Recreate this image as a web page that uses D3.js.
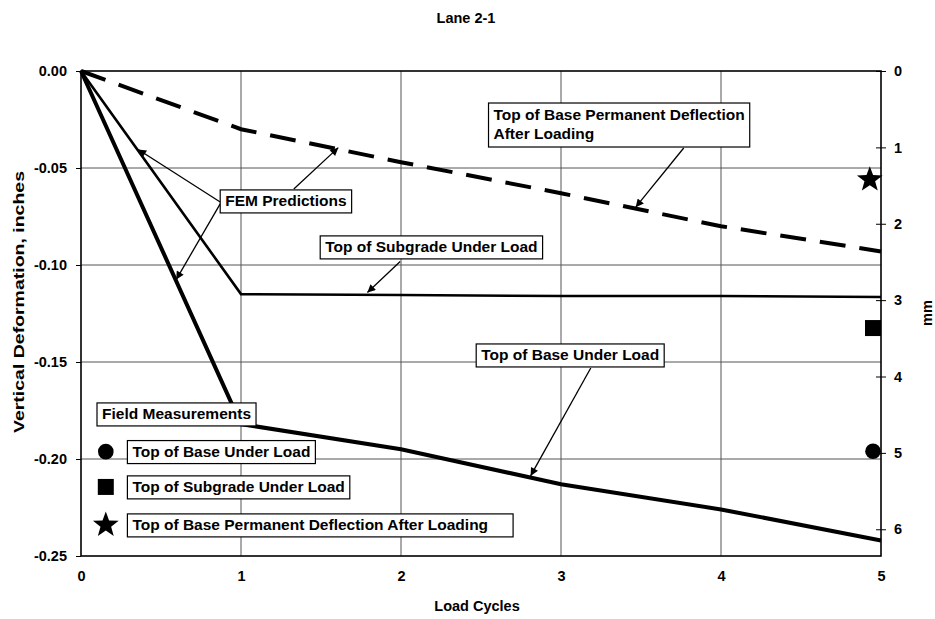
<!DOCTYPE html>
<html><head><meta charset="utf-8">
<script src="https://cdn.jsdelivr.net/npm/d3@7"></script>
<style>
body{margin:0;background:#fff;}
svg text{font-family:"Liberation Sans",Arial,sans-serif;font-weight:bold;fill:#000;}
</style></head>
<body><svg id="chart" width="935" height="619"></svg>
<script>
// ---- data ----
const cycles = [0, 1, 2, 3, 4, 5];
const femBaseUnderLoad = [0, -0.182, -0.195, -0.213, -0.226, -0.242];
const femSubgradeUnderLoad = [0, -0.115, -0.1155, -0.116, -0.116, -0.1165];
const femBasePermanent = [0, -0.030, -0.047, -0.063, -0.080, -0.093];
const fieldCycle = [4.95, 4.95, 4.93];
const fieldNames = ["Top of Base Under Load", "Top of Subgrade Under Load", "Top of Base Permanent Deflection After Loading"];
const fieldValues = [-0.196, -0.1325, -0.056];
const fieldShapes = ["circle", "square", "star"];
const yTicks = [0, -0.05, -0.10, -0.15, -0.20, -0.25];
const mmTicks = [0, 1, 2, 3, 4, 5, 6];
const xTicks = [0, 1, 2, 3, 4, 5];

// ---- layout ----
const svg = d3.select("#chart");
const L = 81, R = 881, T = 71, B = 556;
const x = d3.scaleLinear().domain([0, 5]).range([L, R]);
const y = d3.scaleLinear().domain([-0.25, 0]).range([B, T]);
const ymm = d3.scaleLinear().domain([0, 6.35]).range([T, B]);

// grid
svg.append("g").selectAll("line").data(yTicks.slice(1, -1)).join("line")
  .attr("x1", L).attr("x2", R).attr("y1", d => y(d)).attr("y2", d => y(d))
  .attr("stroke", "#555").attr("stroke-width", 1);
svg.append("g").selectAll("line").data(xTicks.slice(1, -1)).join("line")
  .attr("y1", T).attr("y2", B).attr("x1", d => x(d)).attr("x2", d => x(d))
  .attr("stroke", "#555").attr("stroke-width", 1);

// frame
svg.append("rect").attr("x", L).attr("y", T).attr("width", R - L).attr("height", B - T)
  .attr("fill", "none").attr("stroke", "#000").attr("stroke-width", 1.6);

// axes
const ax = svg.append("g").attr("transform", `translate(${L},0)`)
  .call(d3.axisLeft(y).tickValues(yTicks).tickFormat(d => d.toFixed(2)).tickSize(5).tickPadding(9));
ax.select(".domain").remove();
const ar = svg.append("g").attr("transform", `translate(${R},0)`)
  .call(d3.axisRight(ymm).tickValues(mmTicks).tickFormat(d => String(d)).tickSize(5).tickPadding(8));
ar.select(".domain").remove();
ar.selectAll(".tick line").attr("x1", -5);
const ab = svg.append("g").attr("transform", `translate(0,${B})`)
  .call(d3.axisBottom(x).tickValues(xTicks).tickFormat(d => String(d)).tickSize(0).tickPadding(15));
ab.select(".domain").remove();
svg.selectAll(".tick text").style("font-size", "14.5px").style("font-family", '"Liberation Sans",Arial,sans-serif').style("font-weight", "bold");
svg.selectAll(".tick line").attr("stroke", "#000");

// titles
svg.append("text").attr("x", 466).attr("y", 23).attr("text-anchor", "middle").style("font-size", "14.5px").text("Lane 2-1");
svg.append("text").attr("x", 477).attr("y", 611).attr("text-anchor", "middle").style("font-size", "14.5px").text("Load Cycles");
svg.append("text").attr("transform", "translate(24,302) rotate(-90)").attr("text-anchor", "middle")
  .style("font-size", "15px").attr("textLength", 262).attr("lengthAdjust", "spacingAndGlyphs").text("Vertical Deformation, inches");
svg.append("text").attr("transform", "translate(932,313) rotate(-90)").attr("text-anchor", "middle").style("font-size", "14.5px").text("mm");

// lines
const line = d3.line().x((d, i) => x(cycles[i])).y(d => y(d));
svg.append("path").datum(femBasePermanent).attr("d", line).attr("fill", "none")
  .attr("stroke", "#000").attr("stroke-width", 4).attr("stroke-dasharray", "26,14");
svg.append("path").datum(femSubgradeUnderLoad).attr("d", line).attr("fill", "none")
  .attr("stroke", "#000").attr("stroke-width", 2.6);
svg.append("path").datum(femBaseUnderLoad).attr("d", line).attr("fill", "none")
  .attr("stroke", "#000").attr("stroke-width", 4);

// markers
function starPath(Ro, ri) {
  let p = "";
  for (let k = 0; k < 10; k++) {
    const r = k % 2 ? ri : Ro, a = -Math.PI / 2 + k * Math.PI / 5;
    p += (k ? "L" : "M") + (r * Math.cos(a)).toFixed(2) + "," + (r * Math.sin(a)).toFixed(2);
  }
  return p + "Z";
}
function marker(g, shape) {
  if (shape === "circle") g.append("circle").attr("r", 7.8);
  else if (shape === "square") g.append("rect").attr("x", -8).attr("y", -8).attr("width", 16).attr("height", 16);
  else g.append("path").attr("d", starPath(13.5, 5.6));
  g.attr("fill", "#000");
}
fieldValues.forEach((v, i) => {
  const g = svg.append("g").attr("transform", `translate(${x(fieldCycle[i])},${y(v)})`);
  marker(g, fieldShapes[i]);
});

// arrow marker
svg.append("defs").append("marker").attr("id", "ah").attr("viewBox", "0 0 10 10")
  .attr("refX", 10).attr("refY", 5).attr("markerWidth", 11).attr("markerHeight", 8)
  .attr("markerUnits", "userSpaceOnUse").attr("orient", "auto")
  .append("path").attr("d", "M0,0L10,5L0,10Z").attr("fill", "#000");

// annotation boxes (position in data units)
function box(lines, cx, cy, opts = {}) {
  const g = svg.append("g");
  const px = x(cx), py = y(cy), fs = 15.5, lh = 19;
  const texts = lines.map((t, i) => g.append("text").attr("x", px + 5).attr("y", py + 16.5 + i * lh)
    .style("font-size", fs + "px").text(t));
  const w = d3.max(texts, t => t.node().getComputedTextLength()) + 10 + (opts.extra || 0);
  const h = opts.h || (lines.length * lh + 4);
  g.insert("rect", "text").attr("x", px).attr("y", py).attr("width", w).attr("height", h)
    .attr("fill", "#fff").attr("stroke", "#000").attr("stroke-width", 1.2);
  return g;
}
function arrow(x1, y1, x2, y2) {
  svg.append("line").attr("x1", x(x1)).attr("y1", y(y1)).attr("x2", x(x2)).attr("y2", y(y2))
    .attr("stroke", "#000").attr("stroke-width", 1.3).attr("marker-end", "url(#ah)");
}
// FEM predictions
arrow(0.87, -0.0675, 0.357, -0.0405);
arrow(0.87, -0.0685, 0.595, -0.1075);
arrow(1.33, -0.0608, 1.608, -0.0395);
box(["FEM Predictions"], 0.87, -0.0613);
// Permanent deflection
arrow(3.767, -0.0397, 3.467, -0.0702);
box(["Top of Base Permanent Deflection", "After Loading"], 2.547, -0.0165, {h: 44});
// Subgrade
arrow(1.995, -0.0982, 1.79, -0.1142);
box(["Top of Subgrade Under Load"], 1.495, -0.0850);
// Base under load
arrow(3.186, -0.1531, 2.81, -0.2087);
box(["Top of Base Under Load"], 2.470, -0.1407);

// legend
box(["Field Measurements"], 0.10, -0.1711);
fieldNames.forEach((n, i) => {
  const ly = [-0.1962, -0.2144, -0.2340][i];
  const g = svg.append("g").attr("transform", `translate(${x(0.155)},${y(ly)})`);
  marker(g, fieldShapes[i]);
  box([n], 0.29, ly + 0.0057, {extra: i === 2 ? 20 : 0});
});
</script></body></html>
